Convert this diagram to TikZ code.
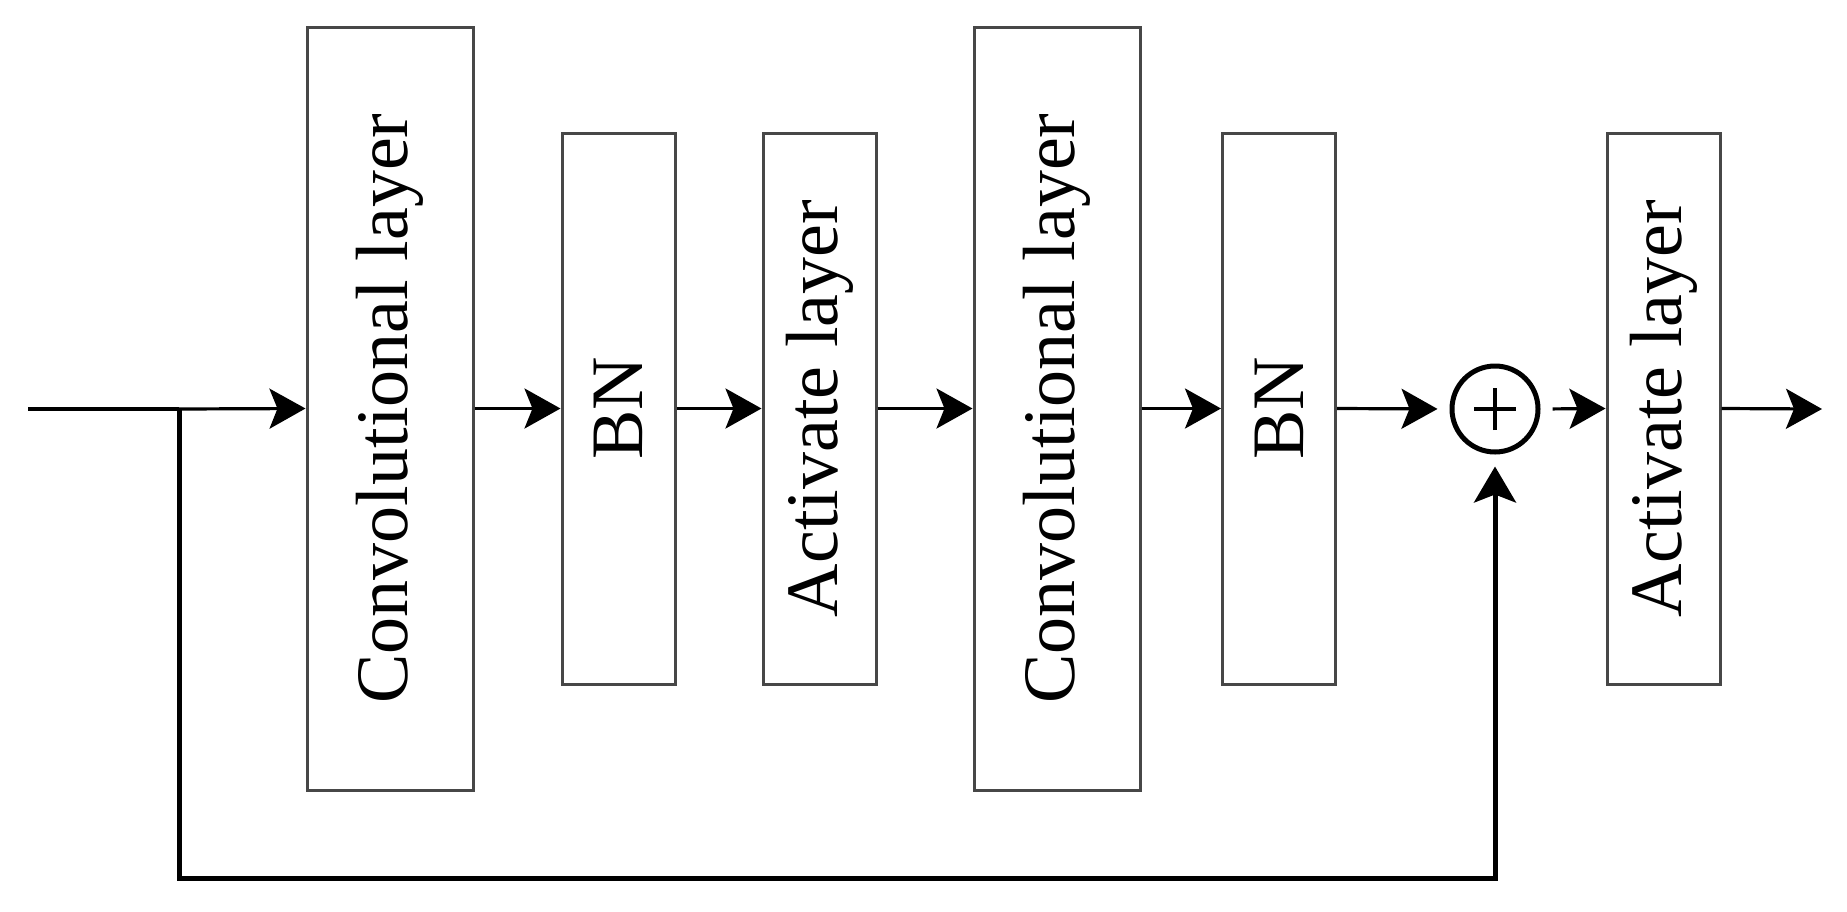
\documentclass[tikz,border=0pt]{standalone}
\usepackage{fontspec}
\setmainfont{Liberation Serif}
\usetikzlibrary{arrows.meta}
\begin{document}
\begin{tikzpicture}[x=0.5pt,y=-0.5pt,
  box/.style={draw=black!72, line width=1.5pt, rectangle, inner sep=0pt, fill=white,
    font=\fontsize{37}{40}\selectfont},
  wide/.style={box, minimum width=83pt, minimum height=381.5pt},
  narrow/.style={box, minimum width=56.5pt, minimum height=275.5pt},
  arr/.style={line width=1.6pt, -{Stealth[length=18pt,width=20pt,inset=4pt]}},
  fb/.style={line width=2.5pt, -{Stealth[length=18pt,width=21pt,inset=4pt]}},
  sumnode/.style={circle, draw=black, line width=2.5pt, minimum size=43pt, inner sep=0pt}
]
\useasboundingbox (0,0) rectangle (1847,911);
\node[wide]   (c1) at (390,408.5)    {\rotatebox{90}{Convolutional layer}};
\node[narrow] (b1) at (618.5,408.5)  {\rotatebox{90}{BN}};
\node[narrow] (a1) at (819.5,408.5)  {\rotatebox{90}{Activate layer}};
\node[wide]   (c2) at (1057,408.5)   {\rotatebox{90}{Convolutional layer}};
\node[narrow] (b2) at (1279,408.5)   {\rotatebox{90}{BN}};
\node[sumnode] (sum) at (1495,409) {};
\node[narrow] (a3) at (1663.5,408.5) {\rotatebox{90}{Activate layer}};
\draw[line width=2.2pt] ([xshift=-10.5pt]sum.center) -- ([xshift=10.5pt]sum.center);
\draw[line width=2.2pt] ([yshift=-10.5pt]sum.center) -- ([yshift=10.5pt]sum.center);
\coordinate (in) at (28,409);
\coordinate (br) at (179,409);
\coordinate (bl) at (179,878);
\coordinate (out) at (1822,409);
\draw[line width=1.6pt] (in) -- (br);
\draw[arr] (br) -- (c1.west);
\draw[arr] (c1.east) -- (b1.west);
\draw[arr] (b1.east) -- (a1.west);
\draw[arr] (a1.east) -- (c2.west);
\draw[arr] (c2.east) -- (b2.west);
\draw[arr, shorten >=6pt] (b2.east) -- (sum.west);
\draw[arr, shorten <=6pt] (sum.east) -- (a3.west);
\draw[arr] (a3.east) -- (out);
\draw[fb, shorten >=6pt] (br) -- (bl) -| (sum.south);
\end{tikzpicture}
\end{document}
